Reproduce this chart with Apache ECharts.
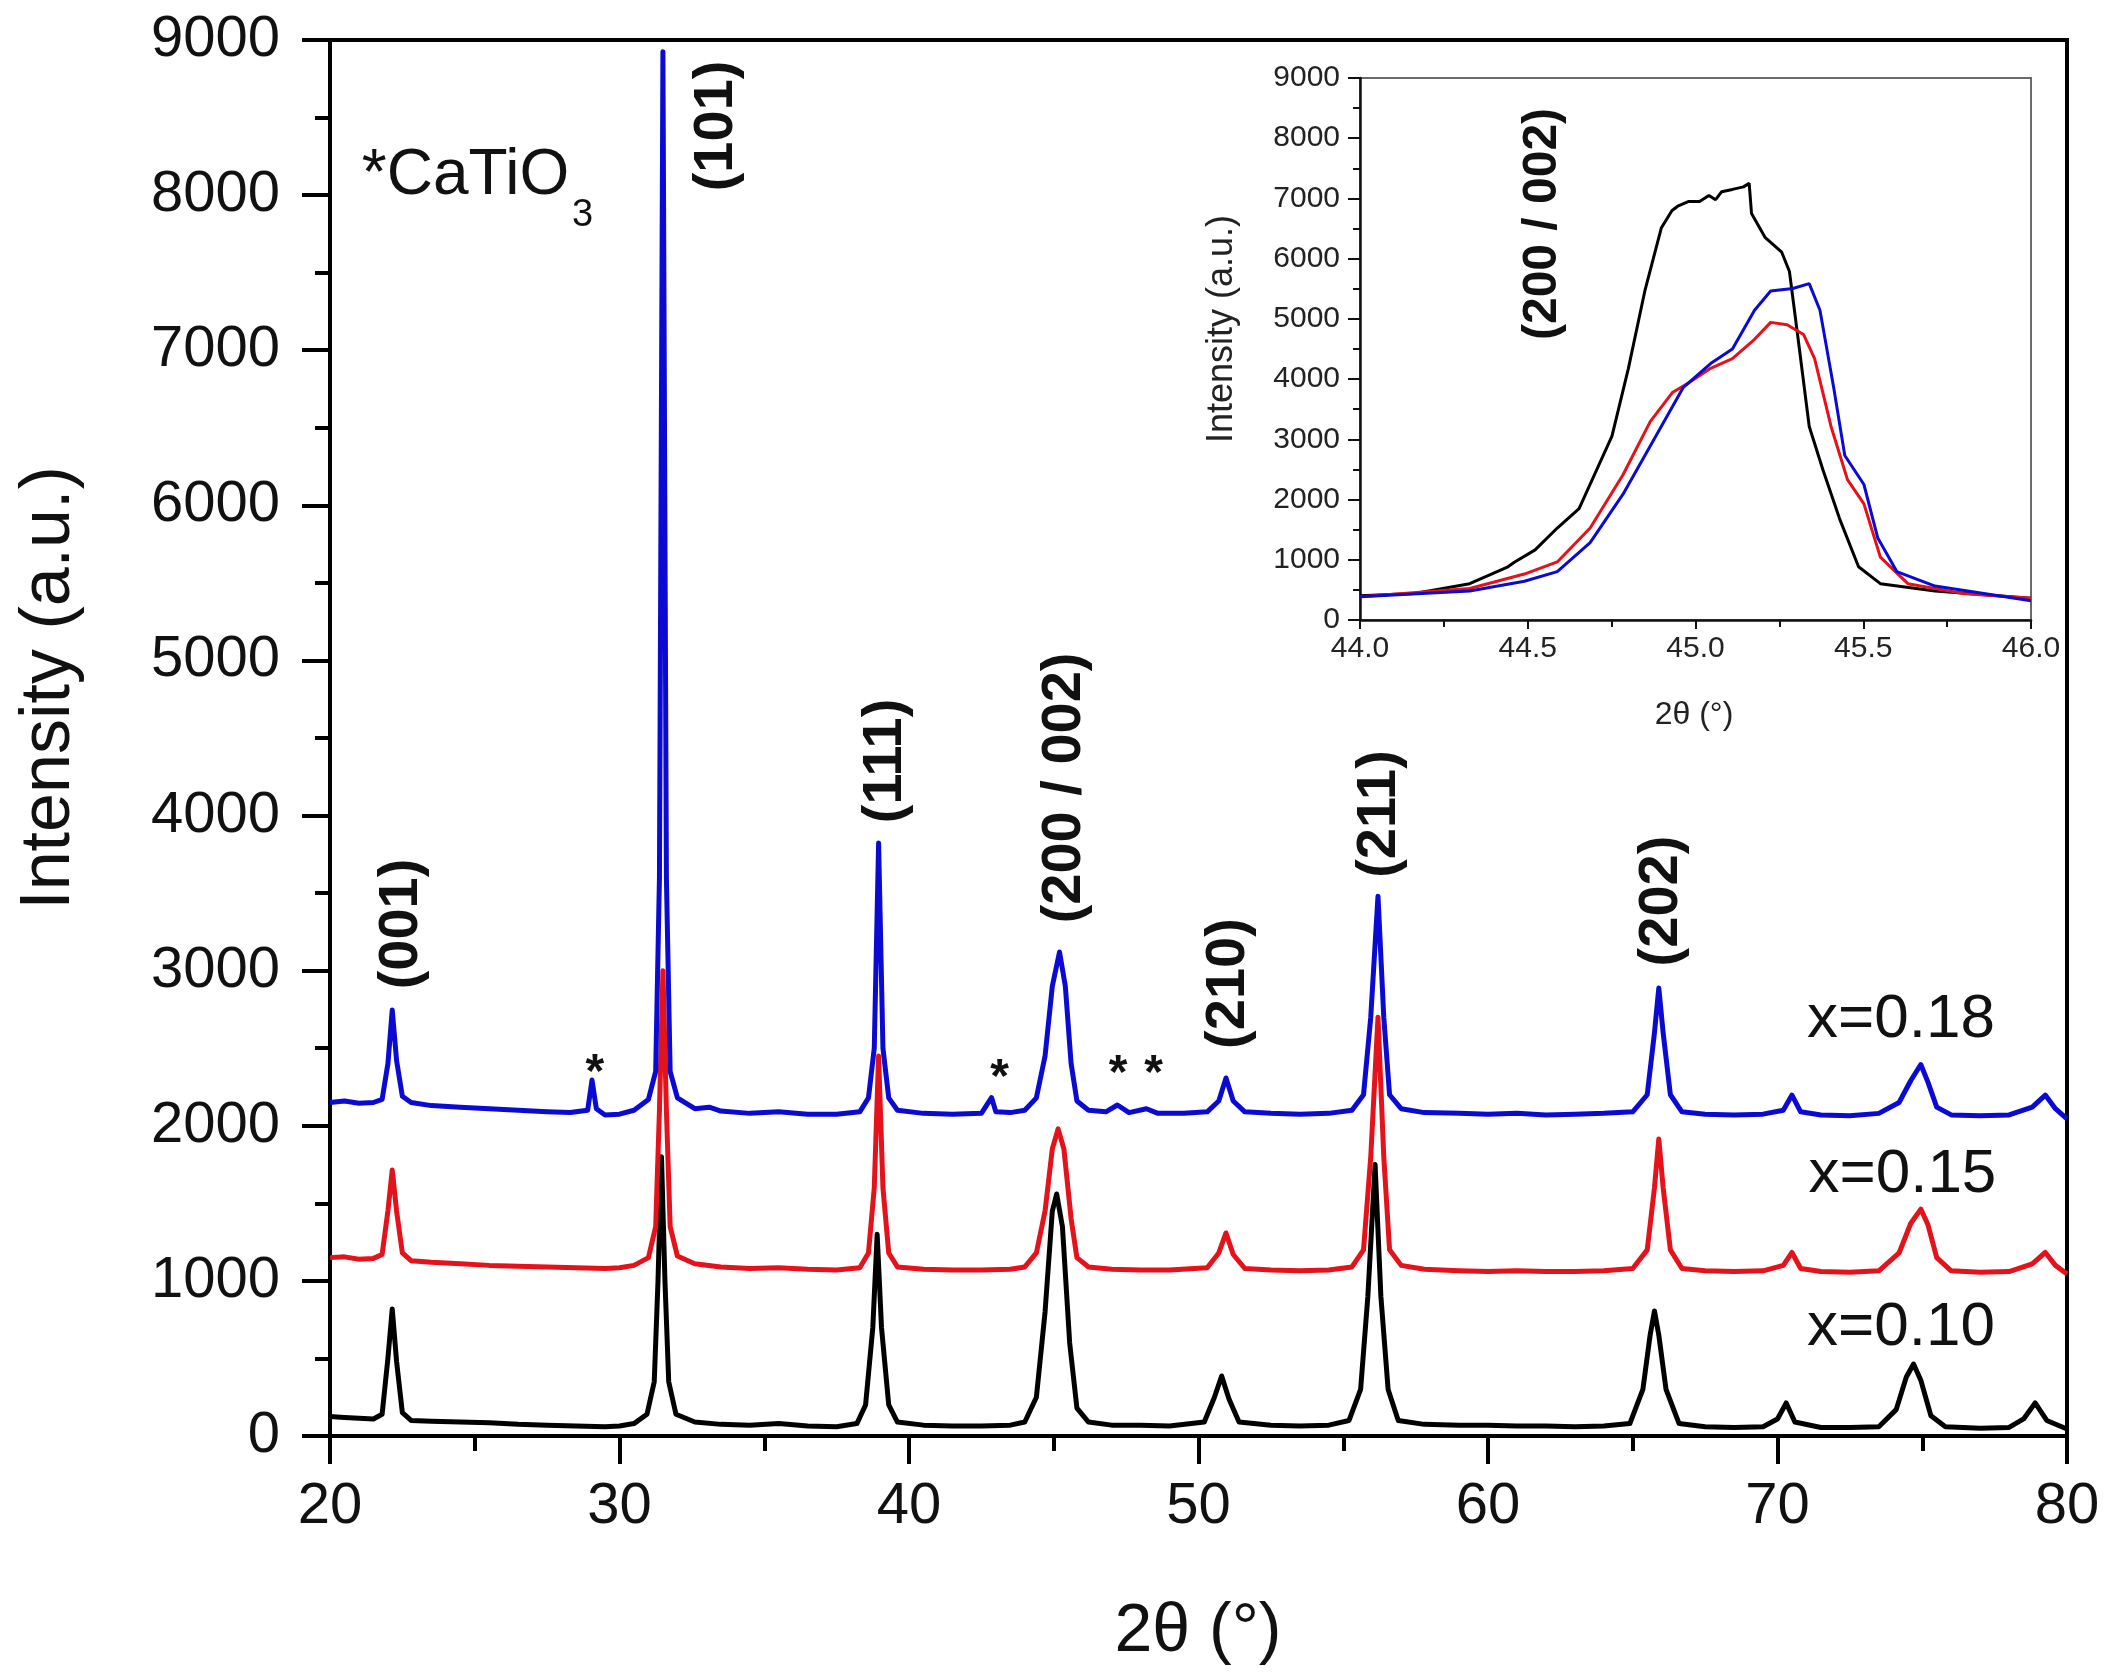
<!DOCTYPE html>
<html><head><meta charset="utf-8">
<script src="https://cdn.jsdelivr.net/npm/echarts/dist/echarts.min.js"></script>
<style>html,body{margin:0;padding:0;background:#fff}#c{width:2109px;height:1678px}</style>
</head><body><div id="c"></div>
<script>
// ---------- DATA (2θ in degrees, intensity in a.u.) ----------
const seriesNames = ['x=0.10', 'x=0.15', 'x=0.18'];
const black010 = [[20.0,125],[20.5,120],[21.0,115],[21.5,110],[21.8,140],[22.0,500],[22.15,819],[22.3,480],[22.5,150],[22.8,100],[23.5,95],[24.5,90],[25.5,85],[26.5,75],[27.5,70],[28.5,65],[29.5,60],[30.0,65],[30.5,80],[30.95,140],[31.2,350],[31.33,1000],[31.45,1800],[31.57,1000],[31.7,350],[31.95,140],[32.6,90],[33.5,75],[34.5,70],[35.5,80],[36.5,65],[37.5,60],[38.2,80],[38.5,200],[38.75,700],[38.9,1300],[39.05,700],[39.3,200],[39.6,90],[40.5,70],[41.5,65],[42.5,65],[43.5,70],[44.0,90],[44.4,250],[44.7,800],[44.95,1450],[45.1,1560],[45.3,1350],[45.55,600],[45.8,180],[46.2,90],[47,70],[48,70],[49,65],[50.2,90],[50.55,250],[50.8,387],[51.05,240],[51.4,90],[52.5,70],[53.5,65],[54.5,70],[55.2,100],[55.6,300],[55.85,900],[56.1,1750],[56.3,900],[56.55,300],[56.9,100],[57.8,75],[59,70],[60,70],[61,65],[62,65],[63,60],[64,65],[64.9,80],[65.35,300],[65.6,650],[65.75,806],[65.9,650],[66.15,300],[66.6,80],[67.5,60],[68.5,55],[69.5,60],[70.0,110],[70.3,213],[70.6,90],[71.5,55],[72.5,55],[73.5,60],[74.1,170],[74.45,380],[74.7,464],[74.95,360],[75.3,130],[75.8,60],[77,50],[78,55],[78.5,110],[78.9,213],[79.3,100],[80.0,45]];
const red015 = [[20.0,1150],[20.5,1155],[21.0,1140],[21.5,1145],[21.8,1170],[22.0,1450],[22.15,1715],[22.3,1450],[22.5,1180],[22.8,1130],[23.5,1120],[24.5,1110],[25.5,1100],[26.5,1095],[27.5,1090],[28.5,1085],[29.5,1080],[30.0,1085],[30.5,1100],[31.0,1150],[31.25,1350],[31.38,2100],[31.5,3000],[31.62,2100],[31.75,1350],[32.0,1160],[32.6,1110],[33.5,1090],[34.5,1080],[35.5,1085],[36.5,1075],[37.5,1070],[38.3,1085],[38.6,1180],[38.8,1600],[38.95,2450],[39.1,1600],[39.3,1180],[39.6,1090],[40.5,1075],[41.5,1070],[42.5,1070],[43.5,1075],[44.0,1090],[44.4,1180],[44.7,1450],[44.95,1850],[45.15,1980],[45.35,1850],[45.6,1400],[45.8,1150],[46.2,1090],[47,1075],[48,1070],[49,1070],[50.3,1085],[50.7,1180],[50.95,1309],[51.2,1170],[51.6,1080],[52.5,1070],[53.5,1065],[54.5,1070],[55.3,1090],[55.7,1200],[55.95,1800],[56.2,2700],[56.4,1800],[56.6,1200],[57.0,1100],[57.8,1075],[59,1065],[60,1060],[61,1065],[62,1060],[63,1060],[64,1065],[65.0,1080],[65.5,1200],[65.75,1600],[65.9,1915],[66.05,1600],[66.3,1200],[66.7,1080],[67.5,1065],[68.5,1060],[69.5,1065],[70.2,1100],[70.5,1183],[70.8,1080],[71.5,1060],[72.5,1055],[73.5,1065],[74.2,1180],[74.6,1370],[74.95,1463],[75.2,1360],[75.5,1150],[76.0,1065],[77,1055],[78,1060],[78.8,1110],[79.25,1183],[79.6,1100],[80.0,1045]];
const blue018 = [[20.0,2150],[20.5,2160],[21.0,2145],[21.5,2150],[21.8,2170],[22.0,2400],[22.15,2747],[22.3,2420],[22.5,2190],[22.8,2150],[23.5,2130],[24.5,2120],[25.5,2110],[26.5,2100],[27.5,2090],[28.3,2085],[28.9,2100],[29.05,2295],[29.2,2110],[29.5,2070],[30.0,2075],[30.5,2100],[31.0,2170],[31.25,2350],[31.38,3600],[31.5,8925],[31.62,3600],[31.75,2350],[32.0,2180],[32.6,2110],[33.1,2120],[33.5,2095],[34.5,2080],[35.5,2090],[36.5,2075],[37.5,2075],[38.3,2090],[38.6,2180],[38.8,2500],[38.95,3823],[39.1,2500],[39.3,2180],[39.6,2100],[40.5,2080],[41.5,2075],[42.5,2080],[42.85,2182],[43.0,2090],[43.5,2085],[44.0,2100],[44.4,2180],[44.7,2450],[44.95,2900],[45.2,3120],[45.4,2900],[45.6,2400],[45.8,2160],[46.2,2100],[46.8,2090],[47.2,2134],[47.6,2085],[48.2,2110],[48.6,2080],[49.5,2080],[50.3,2090],[50.7,2160],[50.95,2308],[51.2,2160],[51.6,2090],[52.5,2080],[53.5,2075],[54.5,2080],[55.3,2100],[55.7,2200],[55.95,2700],[56.2,3480],[56.4,2700],[56.6,2200],[57.0,2110],[57.8,2085],[59,2080],[60,2075],[61,2080],[62,2070],[63,2075],[64,2080],[65.0,2090],[65.5,2200],[65.75,2600],[65.9,2888],[66.05,2600],[66.3,2200],[66.7,2090],[67.5,2075],[68.5,2070],[69.5,2075],[70.2,2100],[70.5,2198],[70.8,2090],[71.5,2070],[72.5,2065],[73.5,2080],[74.2,2150],[74.6,2290],[74.95,2395],[75.2,2280],[75.5,2120],[76.0,2070],[77,2065],[78,2070],[78.8,2120],[79.25,2198],[79.6,2110],[80.0,2044]];

// inset (200 / 002) region
const insetBlack = [[44.0,402],[44.163,442],[44.327,603],[44.441,884],[44.46,960],[44.522,1165],[44.588,1527],[44.653,1848],[44.751,3054],[44.80,4179],[44.849,5464],[44.898,6509],[44.93,6800],[44.947,6871],[44.98,6950],[45.012,6951],[45.04,7050],[45.06,6980],[45.078,7112],[45.11,7150],[45.143,7192],[45.16,7250],[45.167,6750],[45.208,6348],[45.257,6107],[45.28,5786],[45.306,4661],[45.339,3214],[45.38,2491],[45.429,1688],[45.486,884],[45.551,603],[45.714,482],[46.0,362]];
const insetRed = [[44.0,386],[44.327,522],[44.49,763],[44.588,964],[44.686,1527],[44.784,2411],[44.865,3295],[44.931,3777],[44.98,3938],[45.045,4179],[45.11,4339],[45.176,4661],[45.224,4942],[45.273,4902],[45.322,4741],[45.355,4339],[45.404,3214],[45.453,2330],[45.502,1929],[45.551,1045],[45.633,603],[45.796,442],[46.0,362]];
const insetBlue = [[44.0,386],[44.327,482],[44.49,643],[44.588,804],[44.686,1286],[44.784,2089],[44.882,3054],[44.963,3857],[45.045,4259],[45.11,4500],[45.176,5143],[45.224,5464],[45.29,5505],[45.339,5585],[45.371,5143],[45.412,3857],[45.445,2732],[45.502,2250],[45.543,1366],[45.6,804],[45.714,563],[46.0,321]];

// annotation anchors (data coordinates of the main plot)
const peakLabels = [
  {t:'(001)', x:22.48, y:3301}, {t:'(101)', x:33.37, y:8446}, {t:'(111)', x:39.2, y:4352},
  {t:'(200 / 002)', x:45.39, y:4178}, {t:'(210)', x:51.05, y:2917}, {t:'(211)', x:56.27, y:4010},
  {t:'(202)', x:65.98, y:3449}
];
const starMarks = [[29.15,2405],[43.13,2373],[47.22,2402],[48.45,2402]];
const sampleLabels = [{t:'x=0.18', x:71.02, y:2682},{t:'x=0.15', x:71.07, y:1683},{t:'x=0.10', x:71.02, y:696}];
const phaseNote = {x:21.1, y:8124, sub:[28.36, 7870]};
const insetLabel = {t:'(200 / 002)', x:44.545, y:6576};

// ---------- CHART ----------
const FF = "'Liberation Sans', Arial, Helvetica, sans-serif";
const TXT = '#111';
const chart = echarts.init(document.getElementById('c'), null, {renderer:'canvas'});
const plain = v => String(v);

function axisCommon(o) {
  return Object.assign({
    type:'value', splitLine:{show:false}, minorSplitLine:{show:false},
    axisLine:{show:true, onZero:false, lineStyle:{color:'#000', width:4}},
    axisTick:{show:true, inside:false, length:28, lineStyle:{color:'#000', width:4}},
    minorTick:{show:true, splitNumber:2, length:15, lineStyle:{color:'#000', width:4}},
    axisLabel:{color:TXT, fontFamily:FF, fontSize:58}
  }, o);
}

const option = {
  animation:false,
  backgroundColor:'#fff',
  grid:[
    {left:330, right:42, top:40, bottom:242, show:true, borderColor:'#000', borderWidth:4, backgroundColor:'transparent'},
    {left:1360, right:78, top:78, bottom:1058, show:true, borderColor:'#6a6a6a', borderWidth:2, backgroundColor:'transparent'}
  ],
  xAxis:[
    axisCommon({gridIndex:0, min:20, max:80, interval:10, axisLabel:{color:TXT, fontFamily:FF, fontSize:58, margin:42, formatter:plain}}),
    axisCommon({gridIndex:1, min:44, max:46, interval:0.5,
      axisLine:{show:true, onZero:false, lineStyle:{color:'#111', width:2.5}},
      axisTick:{show:true, length:9, lineStyle:{color:'#111', width:2}},
      minorTick:{show:true, splitNumber:2, length:7, lineStyle:{color:'#111', width:2}},
      axisLabel:{color:'#222', fontFamily:FF, fontSize:30, margin:14, formatter:v=>v.toFixed(1)}})
  ],
  yAxis:[
    axisCommon({gridIndex:0, min:0, max:9000, interval:1000, axisLabel:{color:TXT, fontFamily:FF, fontSize:58, margin:50, formatter:plain}}),
    axisCommon({gridIndex:1, min:0, max:9000, interval:1000,
      axisLine:{show:true, onZero:false, lineStyle:{color:'#111', width:2.5}},
      axisTick:{show:true, length:12, lineStyle:{color:'#111', width:2}},
      minorTick:{show:true, splitNumber:2, length:7, lineStyle:{color:'#111', width:2}},
      axisLabel:{color:'#222', fontFamily:FF, fontSize:30, margin:20, formatter:plain}})
  ],
  series:[
    {name:seriesNames[0], type:'line', xAxisIndex:0, yAxisIndex:0, data:black010, showSymbol:false, lineStyle:{color:'#000', width:5, join:'round'}},
    {name:seriesNames[1], type:'line', xAxisIndex:0, yAxisIndex:0, data:red015, showSymbol:false, lineStyle:{color:'#e3121b', width:5, join:'round'}},
    {name:seriesNames[2], type:'line', xAxisIndex:0, yAxisIndex:0, data:blue018, showSymbol:false, lineStyle:{color:'#0a0ad2', width:5, join:'round'}},
    {name:seriesNames[0]+' inset', type:'line', xAxisIndex:1, yAxisIndex:1, data:insetBlack, showSymbol:false, lineStyle:{color:'#000', width:3}},
    {name:seriesNames[1]+' inset', type:'line', xAxisIndex:1, yAxisIndex:1, data:insetRed, showSymbol:false, lineStyle:{color:'#e3121b', width:3}},
    {name:seriesNames[2]+' inset', type:'line', xAxisIndex:1, yAxisIndex:1, data:insetBlue, showSymbol:false, lineStyle:{color:'#0a0ad2', width:3}}
  ]
};
chart.setOption(option);

const P = (g, pt) => chart.convertToPixel({gridIndex:g}, pt);
const G = [];
peakLabels.forEach(l => {
  const p = P(0, [l.x, l.y]);
  G.push({type:'text', x:p[0], y:p[1], rotation:Math.PI/2, z:100,
    style:{text:l.t, fontFamily:FF, fontSize:56, fontWeight:'bold', fill:TXT, align:'center', verticalAlign:'middle'}});
});
starMarks.forEach(s => {
  const p = P(0, s);
  G.push({type:'text', x:p[0], y:p[1] + 11, z:100,
    style:{text:'*', fontFamily:FF, fontSize:48, fontWeight:'bold', fill:TXT, align:'center', verticalAlign:'middle'}});
});
sampleLabels.forEach(l => {
  const p = P(0, [l.x, l.y]);
  G.push({type:'text', x:p[0], y:p[1], z:100,
    style:{text:l.t, fontFamily:FF, fontSize:62, fill:TXT, align:'left', verticalAlign:'middle'}});
});
{
  const p = P(0, [phaseNote.x, phaseNote.y]);
  G.push({type:'text', x:p[0], y:p[1], z:100,
    style:{text:'*CaTiO', fontFamily:FF, fontSize:64, fill:TXT, align:'left', verticalAlign:'middle'}});
  const q = P(0, phaseNote.sub);
  G.push({type:'text', x:q[0], y:q[1], z:100,
    style:{text:'3', fontFamily:FF, fontSize:38, fill:TXT, align:'left', verticalAlign:'middle'}});
}
{
  const p = P(1, [insetLabel.x, insetLabel.y]);
  G.push({type:'text', x:p[0], y:p[1], rotation:Math.PI/2, z:100,
    style:{text:insetLabel.t, fontFamily:FF, fontSize:48, fontWeight:'bold', fill:TXT, align:'center', verticalAlign:'middle'}});
}
// axis titles
G.push({type:'text', x:50, y:688, rotation:Math.PI/2, z:100,
  style:{text:'Intensity (a.u.)', fontFamily:FF, fontSize:70, fill:TXT, align:'center', verticalAlign:'middle'}});
G.push({type:'text', x:1198, y:1632, z:100,
  style:{text:'2θ (°)', fontFamily:FF, fontSize:68, fill:TXT, align:'center', verticalAlign:'middle'}});
G.push({type:'text', x:1222, y:329, rotation:Math.PI/2, z:100,
  style:{text:'Intensity (a.u.)', fontFamily:FF, fontSize:36, fill:'#222', align:'center', verticalAlign:'middle'}});
G.push({type:'text', x:1694, y:715, z:100,
  style:{text:'2θ (°)', fontFamily:FF, fontSize:32, fill:'#222', align:'center', verticalAlign:'middle'}});
chart.setOption({graphic:G});
</script></body></html>
